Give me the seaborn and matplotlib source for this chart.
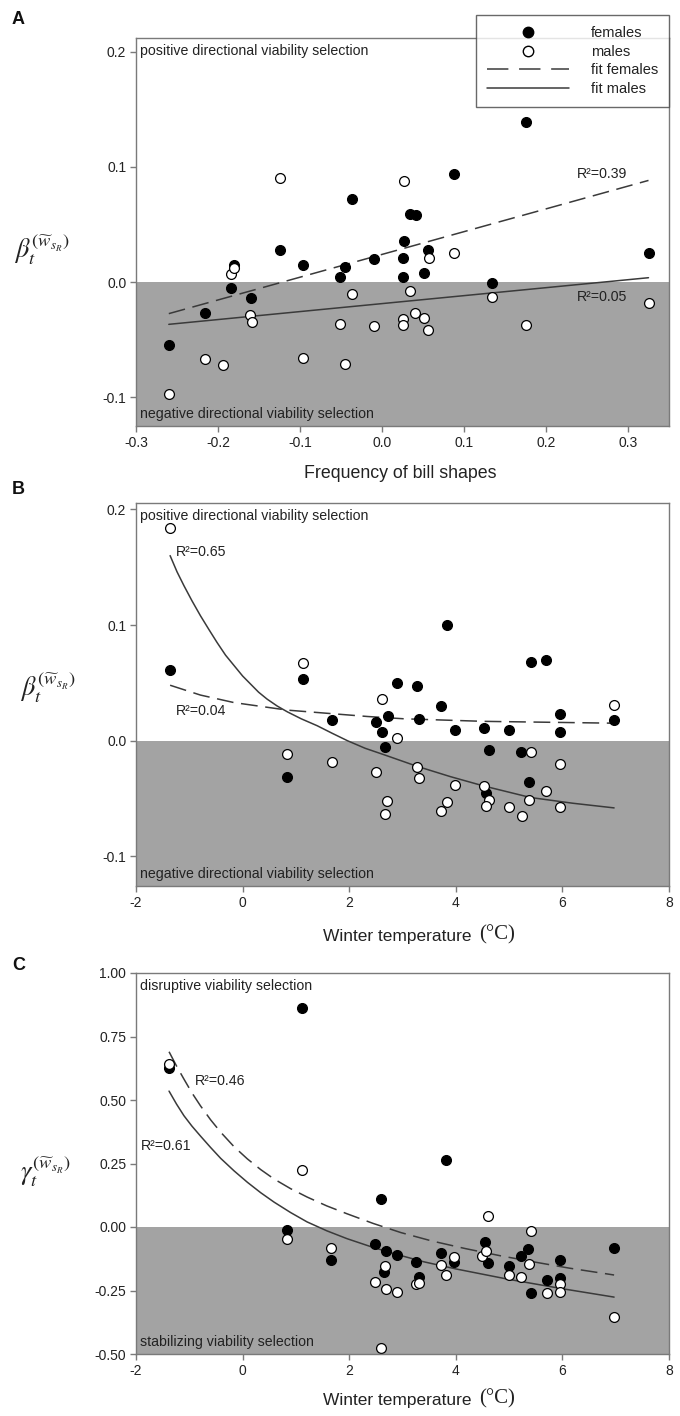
import numpy as np
import pandas as pd
import seaborn as sns
import matplotlib.pyplot as plt
from matplotlib.lines import Line2D

# Panel A: frequency of bill shapes vs beta
a_fem_x = [-0.260, -0.216, -0.184, -0.181, -0.160, -0.125, -0.096, -0.037, -0.051, -0.045,
           -0.010, 0.027, 0.026, 0.026, 0.034, 0.041, 0.056, 0.051, 0.088, 0.134, 0.176, 0.325]
a_fem_y = [-0.055, -0.027, -0.005, 0.015, -0.014, 0.028, 0.015, 0.072, 0.004, 0.013,
           0.020, 0.036, 0.021, 0.004, 0.059, 0.058, 0.028, 0.008, 0.094, -0.001, 0.139, 0.025]
a_mal_x = [-0.260, -0.216, -0.194, -0.184, -0.181, -0.161, -0.159, -0.125, -0.096, -0.051,
           -0.045, -0.037, -0.010, 0.027, 0.025, 0.025, 0.034, 0.040, 0.051, 0.056,
           0.057, 0.088, 0.134, 0.176, 0.325]
a_mal_y = [-0.097, -0.067, -0.072, 0.007, 0.012, -0.029, -0.035, 0.090, -0.066, -0.036,
           -0.071, -0.010, -0.038, 0.088, -0.032, -0.037, -0.008, -0.027, -0.031, -0.042,
           0.021, 0.025, -0.013, -0.037, -0.018]
a_fit_x = [-0.26, 0.325]
a_fit_fem = [-0.0274, 0.0883]
a_fit_mal = [-0.0367, 0.0038]

# Panel B: winter temperature vs beta
b_fem_x = [-1.36, 1.13, 0.84, 1.67, 2.50, 2.61, 2.72, 2.67, 2.90, 3.27, 3.31, 3.72, 3.84,
           3.98, 4.52, 4.62, 4.57, 5.00, 5.22, 5.42, 5.37, 5.70, 5.96, 5.96, 6.97]
b_fem_y = [0.061, 0.053, -0.031, 0.018, 0.016, 0.008, 0.021, -0.005, 0.050, 0.047, 0.019,
           0.030, 0.100, 0.009, 0.011, -0.008, -0.045, 0.009, -0.010, 0.068, -0.036, 0.070,
           0.023, 0.008, 0.018]
b_mal_x = [-1.36, 1.13, 0.84, 1.67, 2.50, 2.61, 2.71, 2.68, 2.90, 3.27, 3.31, 3.72, 3.84,
           3.99, 4.52, 4.62, 4.57, 5.00, 5.24, 5.42, 5.37, 5.70, 5.96, 5.96, 6.97]
b_mal_y = [0.184, 0.067, -0.011, -0.018, -0.027, 0.036, -0.052, -0.063, 0.002, -0.023,
           -0.032, -0.061, -0.053, -0.038, -0.039, -0.051, -0.056, -0.057, -0.065, -0.010,
           -0.051, -0.043, -0.020, -0.057, 0.031]
b_fit_fem_x = [-1.36, -0.79, -0.16, 0.84, 2.34, 3.03, 4.52, 6.97]
b_fit_fem_y = [0.048, 0.0395, 0.033, 0.0265, 0.021, 0.019, 0.0168, 0.0152]
b_fit_mal_x = [-1.36, -1.23, -1.10, -0.95, -0.79, -0.63, -0.48, -0.32, -0.16, 0.00, 0.15,
               0.30, 0.46, 0.65, 0.84, 1.10, 1.40, 1.68, 1.97, 2.30, 2.65, 3.27, 3.90,
               4.52, 5.40, 6.20, 6.97]
b_fit_mal_y = [0.160, 0.146, 0.134, 0.121, 0.108, 0.096, 0.085, 0.074, 0.065, 0.056, 0.049,
               0.042, 0.036, 0.030, 0.025, 0.019, 0.013, 0.0065, 0.000, -0.0065, -0.012,
               -0.022, -0.031, -0.039, -0.049, -0.054, -0.058]

# Panel C: winter temperature vs gamma
c_fem_x = [-1.38, 1.12, 0.84, 1.65, 2.49, 2.60, 2.69, 2.66, 2.89, 3.25, 3.31, 3.72,
           3.82, 3.97, 4.55, 4.61, 4.99, 5.23, 5.36, 5.41, 5.71, 5.95, 5.95, 6.97]
c_fem_y = [0.627, 0.864, -0.012, -0.131, -0.068, 0.112, -0.094, -0.176, -0.110, -0.136,
           -0.196, -0.101, 0.265, -0.136, -0.058, -0.143, -0.154, -0.114, -0.088, -0.259,
           -0.209, -0.130, -0.202, -0.084]
c_mal_x = [-1.38, 1.12, 0.83, 1.65, 2.49, 2.68, 2.69, 2.89, 2.60, 3.25, 3.31, 3.72, 3.82,
           3.97, 4.50, 4.57, 4.61, 4.99, 5.23, 5.38, 5.41, 5.71, 5.95, 5.95, 6.97]
c_mal_y = [0.640, 0.226, -0.046, -0.084, -0.218, -0.155, -0.243, -0.256, -0.478, -0.226,
           -0.220, -0.150, -0.189, -0.118, -0.114, -0.094, 0.042, -0.189, -0.196, -0.147,
           -0.016, -0.261, -0.223, -0.256, -0.354]
c_fit_fem_x = [-1.38, -1.24, -1.10, -0.95, -0.79, -0.60, -0.41, -0.16, 0.09, 0.34, 0.59,
               0.90, 1.21, 1.58, 1.96, 2.45, 2.97, 3.55, 4.18, 4.83, 5.48, 6.13, 6.97]
c_fit_fem_y = [0.690, 0.634, 0.582, 0.528, 0.477, 0.422, 0.373, 0.316, 0.268, 0.226, 0.189,
               0.151, 0.118, 0.083, 0.052, 0.014, -0.022, -0.055, -0.085, -0.113, -0.138,
               -0.162, -0.189]
c_fit_mal_x = [-1.38, -1.24, -1.10, -0.95, -0.79, -0.60, -0.41, -0.16, 0.09, 0.34, 0.59,
               0.90, 1.21, 1.58, 1.96, 2.40, 2.84, 3.40, 4.00, 4.99, 6.00, 6.97]
c_fit_mal_y = [0.535, 0.484, 0.438, 0.397, 0.358, 0.313, 0.270, 0.221, 0.176, 0.135, 0.098,
               0.057, 0.020, -0.015, -0.046, -0.077, -0.105, -0.137, -0.165, -0.206, -0.243,
               -0.276]

sns.set_style("ticks")
plt.rcParams['font.family'] = ['Liberation Sans', 'DejaVu Sans']
plt.rcParams['mathtext.fontset'] = 'stix'
plt.rcParams['axes.unicode_minus'] = False

GREY = '#a3a3a3'
SPINE = '#7a7a7a'
LINE = '#3a3a3a'
TXT = '#222222'
DASH = (0, (11, 5))
FS = 10.2

W, H = 680, 1416
fig = plt.figure(figsize=(W / 100, H / 100), dpi=100)


def add_axes(top, bottom, left=136, right=669):
    return fig.add_axes([left / W, 1 - bottom / H, (right - left) / W, (bottom - top) / H])


def style(ax, xlim, ylim, xticks, yticks, xfmt, yfmt):
    ax.axhspan(ylim[0], 0, color=GREY, lw=0, zorder=0)
    ax.set_xlim(*xlim)
    ax.set_ylim(*ylim)
    ax.set_xticks(xticks)
    ax.set_yticks(yticks)
    ax.set_xticklabels([xfmt % v for v in xticks])
    ax.set_yticklabels([yfmt % v for v in yticks])
    for s in ax.spines.values():
        s.set_visible(True)
        s.set_color(SPINE)
        s.set_linewidth(1.0)
        s.set_zorder(5)
    ax.tick_params(direction='out', length=4, width=1, color=SPINE,
                   labelsize=10, labelcolor=TXT, pad=3)
    ax.set_xlabel('')
    ax.set_ylabel('')


def draw(ax, fx, fy, mx, my, ffx, ffy, fmx, fmy):
    sns.lineplot(x=ffx, y=ffy, ax=ax, color=LINE, lw=1.1, linestyle=DASH,
                 sort=False, estimator=None, zorder=3)
    sns.lineplot(x=fmx, y=fmy, ax=ax, color=LINE, lw=1.1, sort=False,
                 estimator=None, zorder=3)
    sns.scatterplot(x=fx, y=fy, ax=ax, color='black', edgecolor='black',
                    s=50, linewidth=0.9, zorder=4)
    sns.scatterplot(x=mx, y=my, ax=ax, color='white', edgecolor='black',
                    s=50, linewidth=0.9, zorder=4)


def temp_label(y):
    fig.text(476 / W, 1 - y / H, 'Winter temperature ', ha='right', va='center',
             fontsize=12.5, color=TXT)
    fig.text(479 / W, 1 - (y - 1) / H, '(°C)', ha='left', va='center',
             fontsize=15, color=TXT, family=['Liberation Serif', 'DejaVu Serif'])


# ---- A
axA = add_axes(38, 426)
draw(axA, a_fem_x, a_fem_y, a_mal_x, a_mal_y, a_fit_x, a_fit_fem, a_fit_x, a_fit_mal)
style(axA, (-0.3, 0.35), (-0.125, 0.212), [-0.3, -0.2, -0.1, 0.0, 0.1, 0.2, 0.3],
      [-0.1, 0.0, 0.1, 0.2], '%.1f', '%.1f')
axA.text(0.008, 0.985, 'positive directional viability selection', transform=axA.transAxes,
         va='top', ha='left', fontsize=FS, color=TXT)
axA.text(0.008, 0.012, 'negative directional viability selection', transform=axA.transAxes,
         va='bottom', ha='left', fontsize=FS, color=TXT)
axA.text(0.238, 0.094, 'R²=0.39', fontsize=FS, color=TXT, va='center')
axA.text(0.238, -0.013, 'R²=0.05', fontsize=FS, color=TXT, va='center')

handles = [
    Line2D([], [], marker='o', ls='none', color='black', markerfacecolor='black',
           markeredgecolor='black', markersize=7.5),
    Line2D([], [], marker='o', ls='none', markerfacecolor='white',
           markeredgecolor='black', markersize=7.5),
    Line2D([], [], color=LINE, lw=1.1, linestyle=(0, (14, 7))),
    Line2D([], [], color=LINE, lw=1.1),
]
leg = axA.legend(handles, ['females', 'males', 'fit females', 'fit males'],
                 loc='upper right', bbox_to_anchor=(669 / W, 1 - 15 / H),
                 bbox_transform=fig.transFigure, frameon=True, fancybox=False,
                 edgecolor='#444444', fontsize=10.5, handlelength=5.6,
                 handletextpad=1.5, labelspacing=0.32, borderpad=0.75,
                 borderaxespad=0)
leg.get_frame().set_linewidth(1.0)
leg.set_zorder(10)
for t in leg.get_texts():
    t.set_color(TXT)

fig.text(400 / W, 1 - 474 / H, 'Frequency of bill shapes', ha='center', va='center',
         fontsize=12.8, color=TXT)

# ---- B
axB = add_axes(503, 886)
draw(axB, b_fem_x, b_fem_y, b_mal_x, b_mal_y, b_fit_fem_x, b_fit_fem_y,
     b_fit_mal_x, b_fit_mal_y)
style(axB, (-2, 8), (-0.1255, 0.2055), [-2, 0, 2, 4, 6, 8], [-0.1, 0.0, 0.1, 0.2],
      '%d', '%.1f')
axB.text(0.008, 0.985, 'positive directional viability selection', transform=axB.transAxes,
         va='top', ha='left', fontsize=FS, color=TXT)
axB.text(0.008, 0.012, 'negative directional viability selection', transform=axB.transAxes,
         va='bottom', ha='left', fontsize=FS, color=TXT)
axB.text(-1.25, 0.163, 'R²=0.65', fontsize=FS, color=TXT, va='center')
axB.text(-1.25, 0.026, 'R²=0.04', fontsize=FS, color=TXT, va='center')
temp_label(936)

# ---- C
axC = add_axes(973, 1354)
draw(axC, c_fem_x, c_fem_y, c_mal_x, c_mal_y, c_fit_fem_x, c_fit_fem_y,
     c_fit_mal_x, c_fit_mal_y)
style(axC, (-2, 8), (-0.5, 1.0), [-2, 0, 2, 4, 6, 8],
      [-0.5, -0.25, 0.0, 0.25, 0.5, 0.75, 1.0], '%d', '%.2f')
axC.text(0.008, 0.985, 'disruptive viability selection', transform=axC.transAxes,
         va='top', ha='left', fontsize=FS, color=TXT)
axC.text(0.008, 0.012, 'stabilizing viability selection', transform=axC.transAxes,
         va='bottom', ha='left', fontsize=FS, color=TXT)
axC.text(-0.9, 0.575, 'R²=0.46', fontsize=FS, color=TXT, va='center')
axC.text(-1.9, 0.32, 'R²=0.61', fontsize=FS, color=TXT, va='center')
temp_label(1400)

# y labels and panel letters
beta = r'$\beta_t^{(\widetilde{w}_{s_R})}$'
fig.text(42 / W, 1 - 250 / H, beta, ha='center', va='center', fontsize=19, color=TXT)
fig.text(48 / W, 1 - 688 / H, beta, ha='center', va='center', fontsize=19, color=TXT)
fig.text(45 / W, 1 - 1172 / H, r'$\gamma_t^{(\widetilde{w}_{s_R})}$', ha='center',
         va='center', fontsize=19, color=TXT)
for lab, y in [('A', 20), ('B', 490), ('C', 966)]:
    fig.text(12 / W, 1 - y / H, lab, ha='left', va='center', fontsize=13,
             fontweight='bold', color='#111111')

fig.savefig('out.png', dpi=100)
